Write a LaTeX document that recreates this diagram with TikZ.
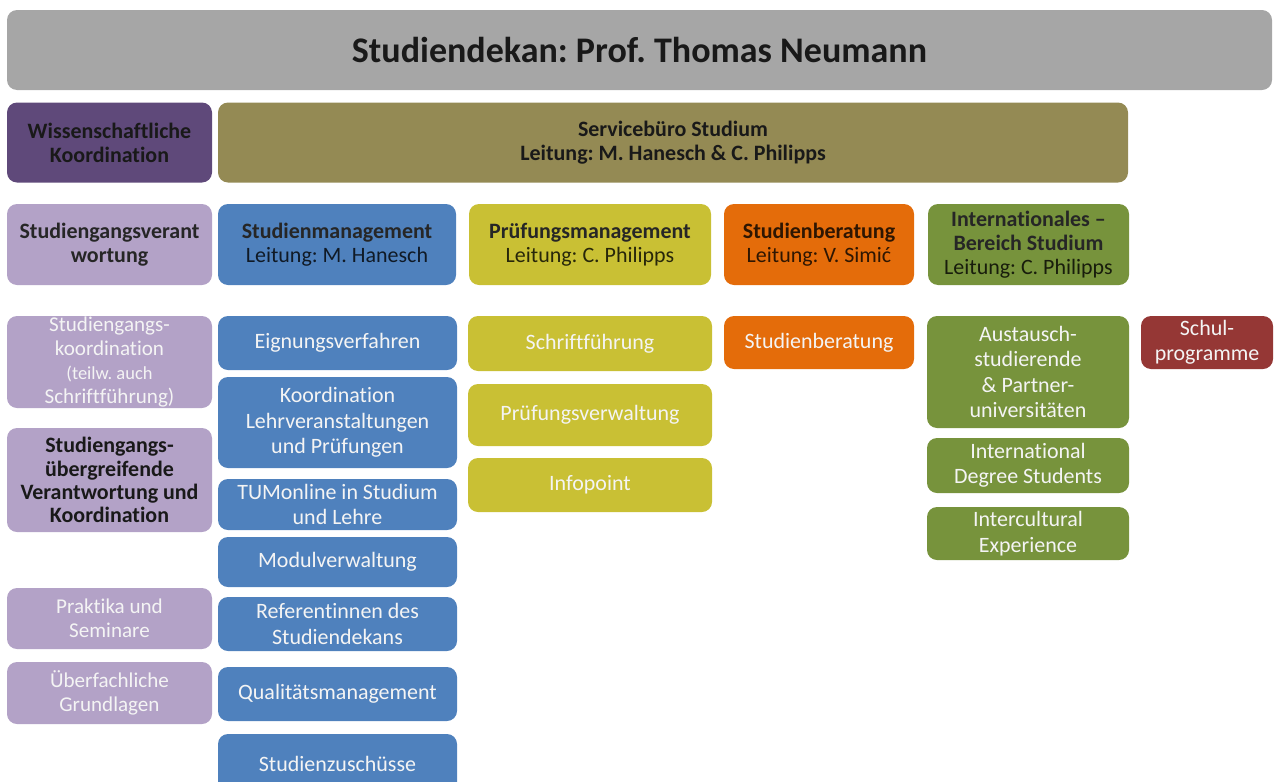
\documentclass[tikz,border=0pt]{standalone}
\usepackage{fontspec}
\setmainfont{Carlito}[Ligatures={TeX,NoCommon}]
\usepackage{xcolor}
\usepackage{tikz}
\usetikzlibrary{positioning}
\frenchspacing

\definecolor{DekanGray}{HTML}{A6A6A6}
\definecolor{WissPurple}{HTML}{5F497A}
\definecolor{ServiceOlive}{HTML}{948A54}
\definecolor{Lavender}{HTML}{B3A2C7}
\definecolor{MgmtBlue}{HTML}{4F81BD}
\definecolor{PruefYellow}{HTML}{C9C034}
\definecolor{BeratOrange}{HTML}{E46C0A}
\definecolor{IntlGreen}{HTML}{77933C}
\definecolor{SchulRed}{HTML}{953735}
\definecolor{LightText}{HTML}{F4F4F4}

\begin{document}
\begin{tikzpicture}[x=0.02cm, y=-0.02cm,
		box/.style={rounded corners=0.2cm, inner sep=0pt, align=center,
			font=\fontsize{12.5}{14.5}\selectfont},
		cell/.style 2 args={minimum width=#1*0.02cm, minimum height=#2*0.02cm},
		head/.style={box, text=#1!20!black, fill=#1, font=\fontsize{12.5}{13.8}\selectfont},
		unit/.style={box, text=LightText, fill=#1},
		lav/.style={unit=Lavender, font=\fontsize{12}{13.5}\selectfont},
	]
		
		% ---------------------
		% Proper size --- Bounding box
		\useasboundingbox (0,0) rectangle (1274,781);
		
		% ---------------------
		% Dean & first level
		\node[box, fill=DekanGray, cell={1265}{80}, text=black!90,
			font=\bfseries\fontsize{20.5}{24}\selectfont] (Dekan) at (639.5,50)
			{Studiendekan: Prof. Thomas Neumann};
		
		\node[head=WissPurple, cell={205}{80}, text=black!90] (Wiss) at (109.5,142.5)
			{\textbf{Wissenschaftliche}\\\textbf{Koordination}};
		\node[head=ServiceOlive, cell={910}{80}, text=black!90] (Service) at (673,142.5)
			{\textbf{Servicebüro Studium}\\\textbf{Leitung: M. Hanesch \& C. Philipps}};
		
		% ---------------------
		% Departments
		\node[head=Lavender, cell={205}{81}, text=black!85] (Verant) at (109.5,244.5)
			{\textbf{Studiengangsverant}\\\textbf{wortung}};
		\node[head=MgmtBlue, cell={238}{81}] (StudMgmt) at (337,244.5)
			{\textbf{\textcolor{black!85}{Studienmanagement}}\\Leitung: M. Hanesch};
		\node[head=PruefYellow, cell={242}{81}] (PruefMgmt) at (590,244.5)
			{\textbf{\textcolor{black!85}{Prüfungsmanagement}}\\Leitung: C. Philipps};
		\node[head=BeratOrange, cell={190}{81}] (BeratHead) at (819,244.5)
			{\textbf{Studienberatung}\\Leitung: V. Simić};
		\node[head=IntlGreen, cell={201}{81}] (IntlHead) at (1028.5,244.5)
			{\textbf{\textcolor{black!85}{Internationales \textendash}}\\
			 \textbf{\textcolor{black!85}{Bereich Studium}}\\Leitung: C. Philipps};
		
		% ---------------------
		% Wissenschaftliche Koordination column
		\node[lav, cell={205}{92}] (Koord) at (109.5,362)
			{Studiengangs-\\koordination\\
			 \fontsize{10.5}{12.5}\selectfont (teilw. auch\\Schriftführung)};
		\node[lav, cell={205}{104}, text=black!90,
			font=\bfseries\fontsize{12.5}{13.2}\selectfont] (Uebergr) at (109.5,480)
			{Studiengangs-\\übergreifende\\Verantwortung und\\Koordination};
		\node[lav, cell={205}{61}] (Praktika) at (109.5,618.5)
			{Praktika und\\Seminare};
		\node[lav, cell={205}{62}] (Ueberfach) at (109.5,693)
			{Überfachliche\\Grundlagen};
		
		% ---------------------
		% Studienmanagement column
		\node[unit=MgmtBlue, cell={239}{54}] (Eignung) at (337.5,343) {Eignungsverfahren};
		\node[unit=MgmtBlue, cell={239}{91}] (KoordLV) at (337.5,422.5)
			{Koordination\\Lehrveranstaltungen\\und Prüfungen};
		\node[unit=MgmtBlue, cell={239}{51}] (TUMonline) at (337.5,504.5)
			{TUMonline in Studium\\und Lehre};
		\node[unit=MgmtBlue, cell={239}{50}] (Modul) at (337.5,562) {Modulverwaltung};
		\node[unit=MgmtBlue, cell={239}{54}] (Referent) at (337.5,624)
			{Referentinnen des\\Studiendekans};
		\node[unit=MgmtBlue, cell={239}{54}] (Quali) at (337.5,694) {Qualitätsmanagement};
		\node[unit=MgmtBlue, cell={239}{60}] (Zuschuss) at (337.5,764) {Studienzuschüsse};
		
		% ---------------------
		% Prüfungsmanagement column
		\node[unit=PruefYellow, cell={244}{55}] (Schrift) at (590,343.5) {Schriftführung};
		\node[unit=PruefYellow, cell={244}{62}] (PruefVerw) at (590,415) {Prüfungsverwaltung};
		\node[unit=PruefYellow, cell={244}{54}] (Infopoint) at (590,485) {Infopoint};
		
		% ---------------------
		% Studienberatung, international & school programmes
		\node[unit=BeratOrange, cell={190}{53}] (Berat) at (819,342.5) {Studienberatung};
		
		\node[unit=IntlGreen, cell={202}{112}] (Austausch) at (1028,372)
			{Austausch-\\studierende\\\& Partner-\\universitäten};
		\node[unit=IntlGreen, cell={202}{55}] (Degree) at (1028,465.5)
			{International\\Degree Students};
		\node[unit=IntlGreen, cell={202}{53}] (Intercult) at (1028,533.5)
			{Intercultural\\Experience};
		
		\node[unit=SchulRed, cell={132}{53}] (Schul) at (1207,342.5)
			{Schul-\\programme};
		
\end{tikzpicture}
\end{document}
